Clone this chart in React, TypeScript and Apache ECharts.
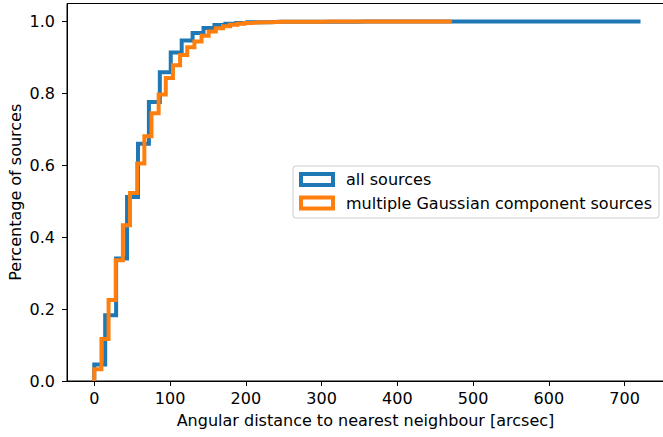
import React, { useEffect, useRef } from "react";
import * as echarts from "echarts";

// Cumulative histograms (50 bins each, step outline)
const seriesNames = ["all sources", "multiple Gaussian component sources"];
const allSourcesRange = [0, 721];
const allSourcesCumulative = [
  0.046, 0.183, 0.341, 0.512, 0.66, 0.776, 0.859, 0.914, 0.947, 0.968,
  0.982, 0.99, 0.994, 0.996, 0.998, 0.998, 0.999, 0.999, 0.999, 0.9995,
  0.9995, 0.9995, 0.9995, 0.9995, 1, 1, 1, 1, 1, 1,
  1, 1, 1, 1, 1, 1, 1, 1, 1, 1,
  1, 1, 1, 1, 1, 1, 1, 1, 1, 1,
];
const multiGaussRange = [0, 472];
const multiGaussCumulative = [
  0.033, 0.117, 0.225, 0.336, 0.433, 0.523, 0.605, 0.681, 0.745, 0.797,
  0.843, 0.878, 0.907, 0.928, 0.944, 0.96, 0.972, 0.981, 0.987, 0.991,
  0.994, 0.996, 0.997, 0.998, 0.998, 0.999, 0.999, 0.999, 0.9995, 0.9995,
  0.9995, 0.9995, 1, 1, 1, 1, 1, 1, 1, 1,
  1, 1, 1, 1, 1, 1, 1, 1, 1, 1,
];
const xTicks = [0, 100, 200, 300, 400, 500, 600, 700];
const yTicks = [0, 0.2, 0.4, 0.6, 0.8, 1.0];
const xTitle = "Angular distance to nearest neighbour [arcsec]";
const yTitle = "Percentage of sources";

const colors = ["#1f77b4", "#ff7f0e"];
const FONT = "DejaVu Sans";

function stepPoints(range: number[], vals: number[]) {
  const n = vals.length;
  const w = (range[1] - range[0]) / n;
  const pts: number[][] = [[range[0], 0]];
  vals.forEach((v, i) => {
    pts.push([range[0] + i * w, v]);
    pts.push([range[0] + (i + 1) * w, v]);
  });
  return pts;
}

export default function App() {
  const ref = useRef<HTMLDivElement>(null);
  useEffect(() => {
    if (!ref.current) return;
    const chart = echarts.init(ref.current, null, { renderer: "svg" });
    const axisText = { color: "#000", fontFamily: FONT, fontSize: 16 };
    chart.setOption({
      animation: false,
      backgroundColor: "#fff",
      grid: {
        left: 67,
        right: -1,
        top: 3.5,
        bottom: 56,
        containLabel: false,
        outerBoundsMode: "none",
        show: true,
        borderColor: "#000",
        borderWidth: 1,
        backgroundColor: "transparent",
      },
      xAxis: {
        type: "value",
        min: -36,
        max: 752,
        splitLine: { show: false },
        axisLine: { onZero: false, lineStyle: { color: "#000", width: 1 } },
        axisTick: { length: 5, lineStyle: { color: "#000", width: 1 }, customValues: xTicks },
        axisLabel: { ...axisText, margin: 9, customValues: xTicks, formatter: (v: number) => String(v) },
        name: xTitle,
        nameLocation: "middle",
        nameGap: 31,
        nameMoveOverlap: false,
        nameTextStyle: axisText,
      },
      yAxis: {
        type: "value",
        min: 0,
        max: 1.05,
        splitLine: { show: false },
        axisLine: { onZero: false, lineStyle: { color: "#000", width: 1 } },
        axisTick: { length: 5, lineStyle: { color: "#000", width: 1 }, customValues: yTicks },
        axisLabel: { ...axisText, margin: 12, customValues: yTicks, formatter: (v: number) => v.toFixed(1) },
        name: yTitle,
        nameLocation: "middle",
        nameGap: 44,
        nameMoveOverlap: false,
        nameTextStyle: axisText,
      },
      legend: {
        left: 293,
        top: 166,
        orient: "vertical",
        selectedMode: false,
        itemWidth: 32,
        itemHeight: 11,
        itemGap: 7.5,
        padding: [5.5, 7, 7, 6],
        backgroundColor: "rgba(255,255,255,0.8)",
        borderColor: "#cccccc",
        borderWidth: 1,
        borderRadius: 3,
        textStyle: { ...axisText, lineHeight: 16, padding: [0, 0, 0, 8] },
        data: seriesNames.map((n, i) => ({
          name: n,
          icon: "rect",
          itemStyle: { color: "rgba(255,255,255,0)", borderColor: colors[i], borderWidth: 4 },
        })),
      },
      series: [
        {
          name: seriesNames[0],
          type: "line",
          data: stepPoints(allSourcesRange, allSourcesCumulative),
          showSymbol: false,
          symbol: "none",
          silent: true,
          color: colors[0],
          lineStyle: { color: colors[0], width: 4, join: "miter", cap: "butt" },
          z: 2,
        },
        {
          name: seriesNames[1],
          type: "line",
          data: stepPoints(multiGaussRange, multiGaussCumulative),
          showSymbol: false,
          symbol: "none",
          silent: true,
          color: colors[1],
          lineStyle: { color: colors[1], width: 4, join: "miter", cap: "butt" },
          z: 3,
        },
      ],
    });
    return () => chart.dispose();
  }, []);
  return (
    <div
      ref={ref}
      style={{ position: "absolute", left: 0, top: 0, width: 663, height: 437 }}
    />
  );
}
